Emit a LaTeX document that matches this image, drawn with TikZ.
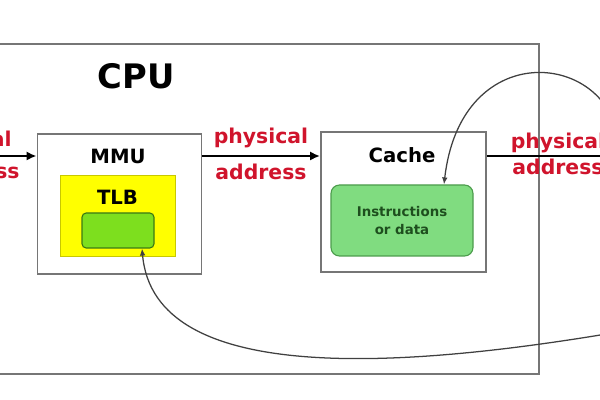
\documentclass[tikz,border=0pt]{standalone}
\usepackage{fontspec}
\setmainfont{DejaVu Sans}
\usetikzlibrary{arrows.meta}

\definecolor{boxgray}{HTML}{767676}
\definecolor{addrred}{HTML}{D0142C}
\definecolor{tlbyellow}{HTML}{FFFF00}
\definecolor{tlbedge}{HTML}{C8C800}
\definecolor{entrygreen}{HTML}{7DDF1E}
\definecolor{entryedge}{HTML}{3C7A14}
\definecolor{datagreen}{HTML}{80DC80}
\definecolor{dataedge}{HTML}{4C9C4C}
\definecolor{datatext}{HTML}{1E4E1E}

\begin{document}
\begin{tikzpicture}[
	box style/.style={
		draw=boxgray,
		line width=1.4pt,
		fill=none,
		inner sep=0pt
	},
	title style/.style={
		font=\bfseries\fontsize{14}{16}\selectfont,
		inner sep=0pt
	},
	addr style/.style={
		font=\bfseries\fontsize{14.5}{16}\selectfont,
		text=addrred,
		inner sep=0pt,
		anchor=base
	},
	bus style/.style={-{Latex[length=7pt,width=6.5pt]}, line width=1.6pt},
	link style/.style={-{Latex[length=5pt,width=4pt]}, line width=0.9pt, draw=black!75},
	>=Latex
	]
	
	\clip (0,0) rectangle (15,-10);
	
	% CPU
	\node[box style, minimum width=13.975cm, minimum height=8.25cm] (cpu) at (6.4875,-5.225) {};
	\node[title style, font=\bfseries\fontsize{24}{28}\selectfont] (cpulabel) at (3.4,-1.9) {CPU};
	
	% MMU with TLB
	\node[box style, minimum width=4.1cm, minimum height=3.5cm] (mmu) at (2.9875,-5.1) {};
	\node[title style] (mmulabel) at (2.95,-3.9125) {MMU};
	\node[draw=tlbedge, line width=0.6pt, fill=tlbyellow, minimum width=2.875cm, minimum height=2.025cm, inner sep=0pt] (tlb) at (2.9375,-5.3875) {};
	\node[title style] (tlblabel) at (2.9375,-4.9375) {TLB};
	\node[draw=entryedge, line width=0.8pt, fill=entrygreen, rounded corners=3pt, minimum width=1.8cm, minimum height=0.875cm, inner sep=0pt] (entry) at (2.95,-5.7625) {};
	
	% Cache
	\node[box style, minimum width=4.125cm, minimum height=3.5cm] (cache) at (10.0875,-5.05) {};
	\node[title style] (cachelabel) at (10.05,-3.875) {Cache};
	\node[draw=dataedge, line width=0.8pt, fill=datagreen, rounded corners=6pt, minimum width=3.55cm, minimum height=1.775cm, align=center, text=datatext, font=\bfseries\fontsize{9.5}{13}\selectfont] (data) at (10.05,-5.5125) {Instructions\\or data};
	
	% address lines
	\coordinate (vin) at (-1.5,-3.9);
	\coordinate (pout) at (15.6,-3.9);
	\draw[bus style] (vin) -- (mmu.west |- vin);
	\draw[bus style] (mmu.east |- vin) -- (cache.west |- vin);
	\draw[bus style] (cache.east |- vin) -- (pout);
	
	\node[addr style] (vlabel1) at (-0.65,-3.675) {virtual};
	\node[addr style] (vlabel2) at (-0.65,-4.475) {address};
	\node[addr style] (plabel1) at (6.525,-3.6) {physical};
	\node[addr style] (plabel2) at (6.525,-4.5) {address};
	\node[addr style] (olabel1) at (13.95,-3.725) {physical};
	\node[addr style] (olabel2) at (13.95,-4.375) {address};
	
	% fills from memory
	\coordinate (memtop) at (15.375,-3.125);
	\coordinate (membot) at (15.75,-8.25);
	\draw[link style] (memtop) .. controls (14.75,-1.25) and (11.5,-1.125) .. ([xshift=1.05cm]data.north);
	\draw[link style] (membot) .. controls (10,-9.25) and (3.85,-9.65) .. ([xshift=0.6cm]entry.south);
	
\end{tikzpicture}
\end{document}
